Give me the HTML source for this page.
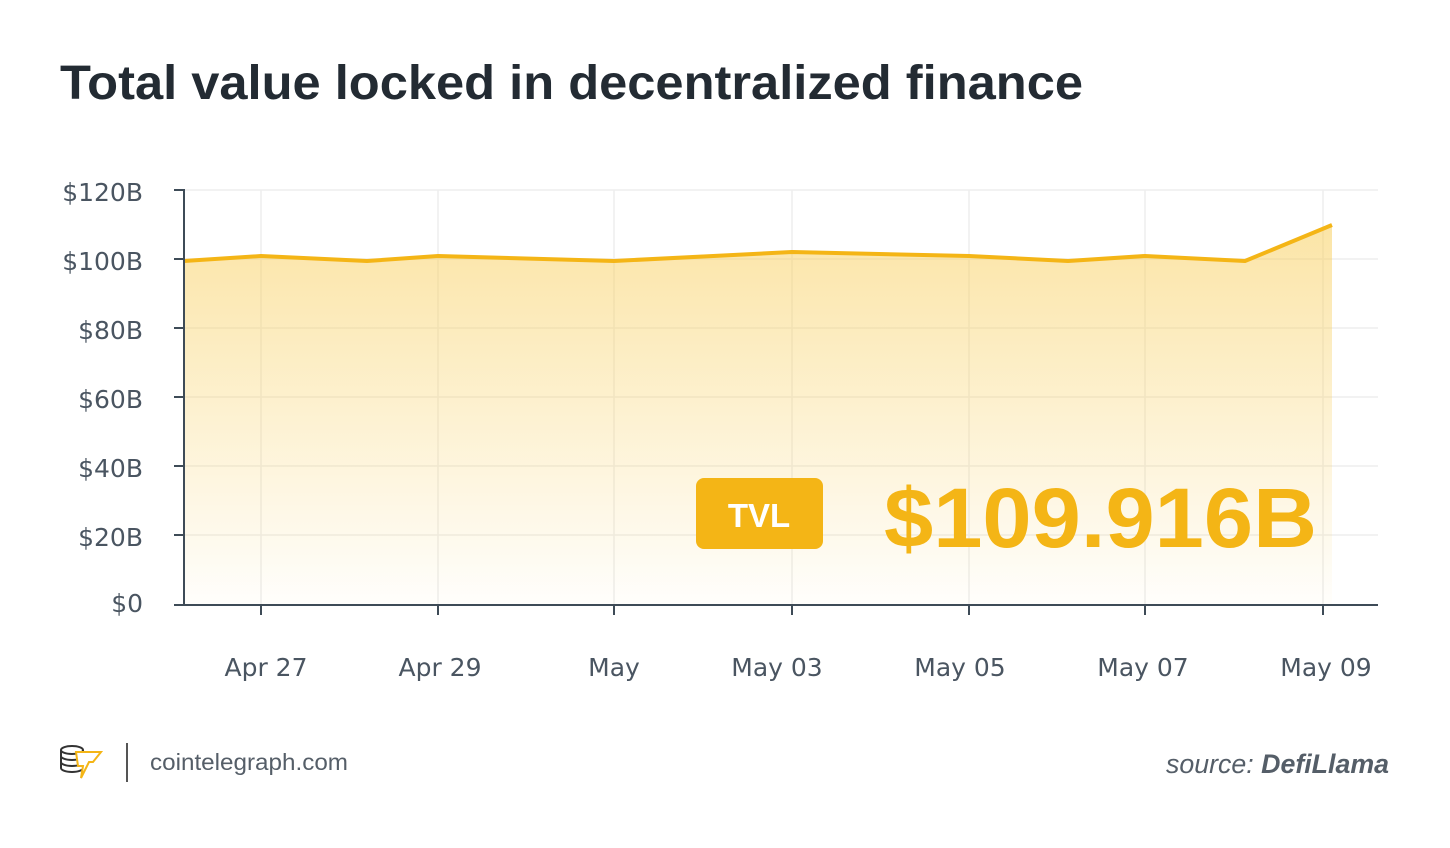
<!DOCTYPE html>
<html><head><meta charset="utf-8"><style>
body{margin:0;width:1450px;height:843px;background:#fff;overflow:hidden;font-family:"Liberation Sans",sans-serif}
</style></head><body>
<svg width="1450" height="843" xmlns="http://www.w3.org/2000/svg">
<defs><linearGradient id="g" x1="0" y1="0" x2="0" y2="1">
<stop offset="0" stop-color="#f8cf5e" stop-opacity="0.55"/>
<stop offset="1" stop-color="#f8cf5e" stop-opacity="0.02"/></linearGradient></defs>
<text x="60" y="99" font-size="48" font-weight="bold" fill="#232b33" textLength="1023" lengthAdjust="spacingAndGlyphs">Total value locked in decentralized finance</text>
<g stroke="#eeeeee" stroke-width="1.5">
<line x1="184" y1="190" x2="1378" y2="190"/><line x1="184" y1="259" x2="1378" y2="259"/>
<line x1="184" y1="328" x2="1378" y2="328"/><line x1="184" y1="397" x2="1378" y2="397"/>
<line x1="184" y1="466" x2="1378" y2="466"/><line x1="184" y1="535" x2="1378" y2="535"/>
<line x1="261" y1="190" x2="261" y2="605"/><line x1="438" y1="190" x2="438" y2="605"/>
<line x1="614" y1="190" x2="614" y2="605"/><line x1="792" y1="190" x2="792" y2="605"/>
<line x1="969" y1="190" x2="969" y2="605"/><line x1="1145" y1="190" x2="1145" y2="605"/>
<line x1="1323" y1="190" x2="1323" y2="605"/></g>
<path d="M184,261 L261,256 L367,261 L438,256 L614,261 L792,252 L969,256 L1068,261 L1145,256 L1245,261 L1332,225 L1332,605 L184,605Z" fill="url(#g)"/>
<path d="M184,261 L261,256 L367,261 L438,256 L614,261 L792,252 L969,256 L1068,261 L1145,256 L1245,261 L1332,225" fill="none" stroke="#f4b516" stroke-width="4" stroke-linejoin="round"/>
<g stroke="#3e4b57" stroke-width="2">
<line x1="184" y1="189" x2="184" y2="606"/><line x1="183" y1="605" x2="1378" y2="605"/>
<line x1="174" y1="190" x2="184" y2="190"/><line x1="174" y1="259" x2="184" y2="259"/>
<line x1="174" y1="328" x2="184" y2="328"/><line x1="174" y1="397" x2="184" y2="397"/>
<line x1="174" y1="466" x2="184" y2="466"/><line x1="174" y1="535" x2="184" y2="535"/>
<line x1="174" y1="605" x2="184" y2="605"/>
<line x1="261" y1="605" x2="261" y2="615"/><line x1="438" y1="605" x2="438" y2="615"/>
<line x1="614" y1="605" x2="614" y2="615"/><line x1="792" y1="605" x2="792" y2="615"/>
<line x1="969" y1="605" x2="969" y2="615"/><line x1="1145" y1="605" x2="1145" y2="615"/>
<line x1="1323" y1="605" x2="1323" y2="615"/></g>
<g font-size="25" fill="#4a5561" text-anchor="end" font-family="DejaVu Sans, sans-serif">
<text x="143" y="201">$120B</text><text x="143" y="270">$100B</text><text x="143" y="339">$80B</text>
<text x="143" y="408">$60B</text><text x="143" y="477">$40B</text><text x="143" y="546">$20B</text>
<text x="143" y="612">$0</text></g>
<g font-size="25" fill="#4a5561" text-anchor="middle" font-family="DejaVu Sans, sans-serif">
<text x="266" y="676">Apr 27</text><text x="440" y="676">Apr 29</text><text x="614" y="676">May</text>
<text x="777" y="676">May 03</text><text x="960" y="676">May 05</text><text x="1143" y="676">May 07</text>
<text x="1326" y="676">May 09</text></g>
<rect x="696" y="478" width="127" height="71" rx="8" fill="#f4b516"/>
<text x="759" y="527" font-size="33" font-weight="bold" fill="#fff" text-anchor="middle">TVL</text>
<text x="884" y="547" font-size="84" font-weight="bold" fill="#f4b516" textLength="433" lengthAdjust="spacingAndGlyphs">$109.916B</text>
<g fill="none" stroke="#333" stroke-width="2">
<ellipse cx="72" cy="750" rx="11" ry="4"/><path d="M61,750v18M83,750v18M61,756a11,4 0 0 0 22,0M61,762a11,4 0 0 0 22,0M61,768a11,4 0 0 0 22,0"/></g>
<path d="M76,752h25l-8,10h-4l-8,16l2,-12h-5z" fill="#fff" stroke="#f4b516" stroke-width="2"/>
<line x1="127" y1="743" x2="127" y2="782" stroke="#555" stroke-width="2"/>
<text x="150" y="770" font-size="23" fill="#555e68" textLength="198" lengthAdjust="spacingAndGlyphs">cointelegraph.com</text>
<text x="1166" y="773" font-size="27" fill="#555e68" font-style="italic" textLength="223" lengthAdjust="spacingAndGlyphs">source: <tspan font-weight="bold">DefiLlama</tspan></text>
</svg>
</body></html>
